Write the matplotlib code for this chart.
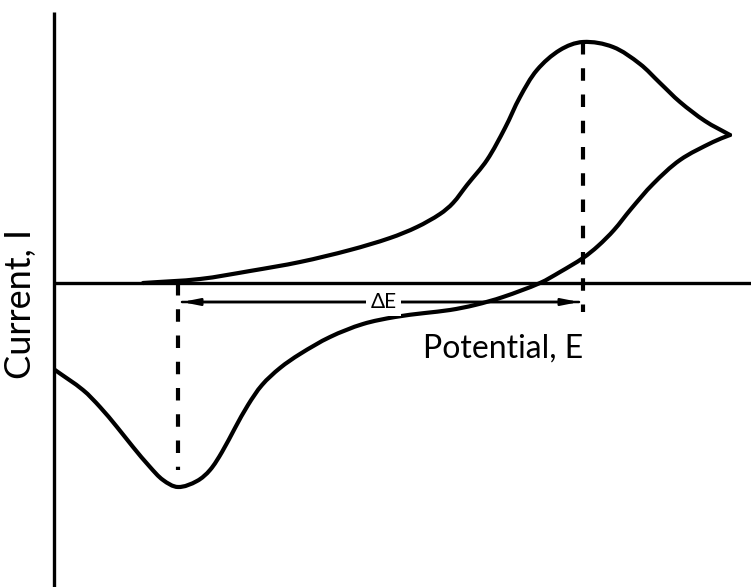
import matplotlib
matplotlib.use("Agg")
import numpy as np
import matplotlib.pyplot as plt
from matplotlib import font_manager
from matplotlib.path import Path
from matplotlib.patches import PathPatch

# Cyclic voltammogram: forward (anodic) scan then reverse (cathodic) scan
forward_E = [89, 146, 196, 246, 296, 336, 363, 386, 399, 413, 433, 451, 466,
             483, 506, 529, 559, 586, 606, 626, 651, 676]
forward_I = [0, 4, 12, 21, 33, 45, 56, 69, 80, 98, 123, 155, 186,
             213, 233, 241, 236, 219, 200, 181, 162, 148]

reverse_E = [676, 659, 626, 599, 577, 560, 544, 529, 506, 486, 449, 421, 396,
             371, 341, 309, 276, 246, 226, 208, 194, 181, 168, 156, 143, 124,
             109, 96, 79, 63, 46, 29, 1]
reverse_I = [148, 141, 123, 99, 74, 53, 37, 25, 11, 0, -14, -22, -27,
             -30, -34, -41, -54, -71, -85, -102, -122, -145, -169, -187, -198,
             -204, -197, -184, -164, -144, -124, -107, -87]

# Peak positions
E_pa, I_pa = 529, 241
E_pc, I_pc = 124, -204

axis_label_x = "Potential, E"
axis_label_y = "Current, I"
delta_label = "\u0394E"

names = {f.name for f in font_manager.fontManager.ttflist}
family = "Liberation Sans Narrow" if "Liberation Sans Narrow" in names else "Lato"


def smooth_path(xs, ys):
    """Cubic Bezier path through every sample, tangents scaled by chord length."""
    p = np.column_stack([xs, ys]).astype(float)
    n = len(p)
    tang = np.empty_like(p)
    for i in range(n):
        a = p[max(i - 1, 0)]
        b = p[min(i + 1, n - 1)]
        d = b - a
        tang[i] = d / np.hypot(*d)
    verts = [p[0]]
    codes = [Path.MOVETO]
    for i in range(n - 1):
        p1, p2 = p[i], p[i + 1]
        L = np.hypot(*(p2 - p1))
        verts += [p1 + tang[i] * L / 3.0, p2 - tang[i + 1] * L / 3.0, p2]
        codes += [Path.CURVE4] * 3
    return Path(verts, codes)


fig = plt.figure(figsize=(7.51, 5.87), dpi=100)
ax = fig.add_axes([0, 0, 1, 1])
ax.set_xlim(-54, 697)
ax.set_ylim(-304, 283)
ax.axis("off")

lw_curve = 3.0
lw_axis = 2.4

# Axes lines
ax.plot([0, 0], [-304, 271], color="black", lw=lw_axis, solid_capstyle="butt")
ax.plot([0, 697], [0, 0], color="black", lw=lw_axis, solid_capstyle="butt")

# Voltammogram trace
for xs, ys in ((forward_E, forward_I), (reverse_E, reverse_I)):
    ax.add_patch(PathPatch(smooth_path(xs, ys), facecolor="none",
                           edgecolor="black", lw=lw_curve,
                           joinstyle="round", capstyle="round"))

# Dashed peak markers
dash = (0, (3.0, 3.3))
ax.plot([E_pa, E_pa], [I_pa, -29], color="black", lw=3.0, linestyle=dash,
        dash_capstyle="butt")
ax.plot([E_pc, E_pc], [0, I_pc + 17], color="black", lw=3.0, linestyle=dash,
        dash_capstyle="butt")

# Peak separation arrow
y_arrow = -19
style = "-|>,head_length=1.0,head_width=0.2"
ax.annotate("", xy=(E_pc + 4, y_arrow), xytext=(E_pa - 4, y_arrow),
            arrowprops=dict(arrowstyle=style, color="black", lw=1.8,
                            shrinkA=0, shrinkB=0))
ax.annotate("", xy=(E_pa - 4, y_arrow), xytext=(E_pc + 4, y_arrow),
            arrowprops=dict(arrowstyle=style, color="black", lw=1.8,
                            shrinkA=0, shrinkB=0))
ax.text((E_pc + E_pa) / 2 + 3, y_arrow, delta_label, ha="center", va="center",
        fontsize=15, family=[family, "DejaVu Sans"],
        bbox=dict(facecolor="white", edgecolor="none", pad=3))

# Axis labels
ax.text(369, -75, axis_label_x, ha="left", va="baseline", fontsize=23,
        family=[family, "DejaVu Sans"])
ax.text(-33, -21, axis_label_y, ha="center", va="center", rotation=90,
        fontsize=26, family=[family, "DejaVu Sans"])

fig.savefig("out.png", dpi=100)
